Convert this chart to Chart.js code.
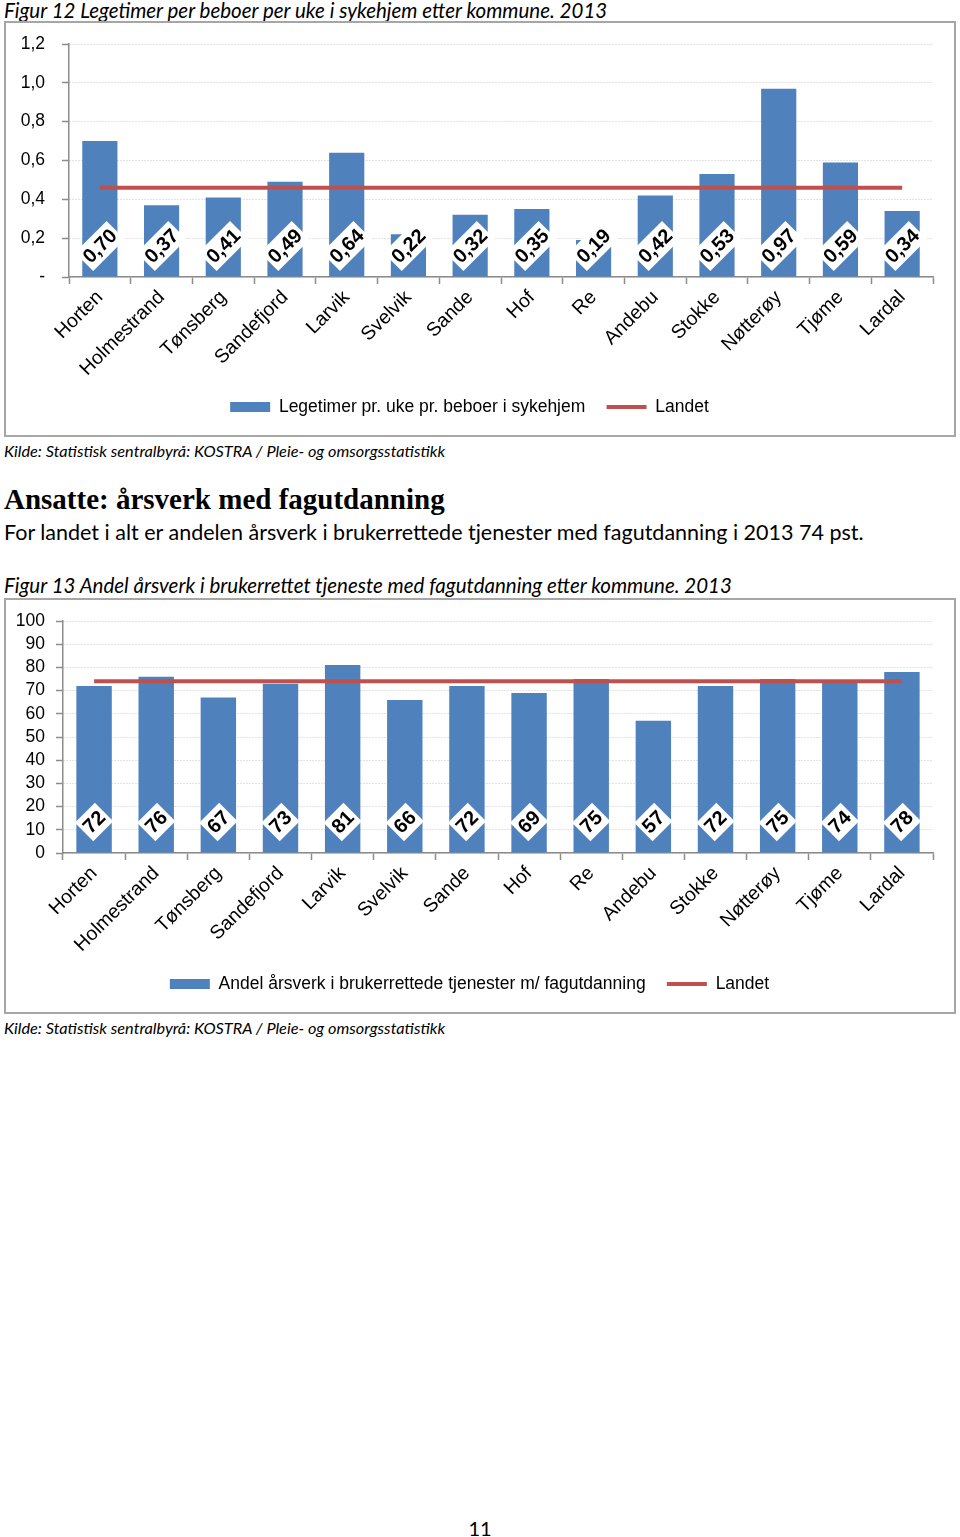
<!DOCTYPE html>
<html>
<head>
<meta charset="utf-8">
<script src="https://cdn.jsdelivr.net/npm/chart.js@4.4.3/dist/chart.umd.min.js"></script>
<style>
  body { margin: 0; background: #fff; width: 960px; height: 1537px; position: relative; overflow: hidden; font-family: Lato, "Open Sans", sans-serif; color: #000; }
  .t { position: absolute; left: 4px; white-space: nowrap; line-height: 1; }
  .cap { font-style: italic; font-size: 20.5px; }
  .src { font-style: italic; font-size: 16.3px; }
  .box { position: absolute; left: 4px; width: 948px; height: 412px; border: 2px solid #a6a6a6; }
  .box canvas { display: block; }
</style>
</head>
<body>
<div class="t cap" style="top:0px">Figur 12 Legetimer per beboer per uke i sykehjem etter kommune. 2013</div>
<div class="box" style="top:21px"><canvas id="chart1" width="948" height="412"></canvas></div>
<div class="t src" style="top:443px">Kilde: Statistisk sentralbyrå: KOSTRA / Pleie- og omsorgsstatistikk</div>

<div class="t" style="top:485px;font-family:'Liberation Serif',serif;font-weight:bold;font-size:29px">Ansatte: årsverk med fagutdanning</div>
<div class="t" style="top:522px;font-size:21.5px">For landet i alt er andelen årsverk i brukerrettede tjenester med fagutdanning i 2013 74 pst.</div>

<div class="t cap" style="top:575px">Figur 13 Andel årsverk i brukerrettet tjeneste med fagutdanning etter kommune. 2013</div>
<div class="box" style="top:598px"><canvas id="chart2" width="948" height="412"></canvas></div>
<div class="t src" style="top:1020px">Kilde: Statistisk sentralbyrå: KOSTRA / Pleie- og omsorgsstatistikk</div>

<div class="t" style="top:1518px;left:0;width:960px;text-align:center;font-size:20px">11</div>

<script>
const kommuner = ['Horten', 'Holmestrand', 'Tønsberg', 'Sandefjord', 'Larvik', 'Svelvik', 'Sande',
  'Hof', 'Re', 'Andebu', 'Stokke', 'Nøtterøy', 'Tjøme', 'Lardal'];

// Figur 12
const legetimer = [0.70, 0.37, 0.41, 0.49, 0.64, 0.22, 0.32, 0.35, 0.19, 0.42, 0.53, 0.97, 0.59, 0.34];
const legetimerLandet = 0.46;

// Figur 13
const fagutdanning = [72, 76, 67, 73, 81, 66, 72, 69, 75, 57, 72, 75, 74, 78];
const fagutdanningLandet = 74;

const BLUE = '#4F81BD';
const RED = '#C0504D';
const AXIS = '#8c8c8c';
const SANS = '"Liberation Sans", Arial, sans-serif';

function comma(v, d) {
  return v.toFixed(d).replace('.', ',');
}

// white rotated boxes with the value, near the foot of each bar
const diamondLabels = {
  id: 'diamondLabels',
  afterDatasetsDraw(chart, args, opts) {
    const ctx = chart.ctx;
    const meta = chart.getDatasetMeta(0);
    const base = chart.scales.y.getPixelForValue(0);
    ctx.save();
    ctx.font = 'bold 20px ' + SANS;
    ctx.textAlign = 'center';
    ctx.textBaseline = 'middle';
    meta.data.forEach((bar, i) => {
      const txt = comma(chart.data.datasets[0].data[i], opts.decimals);
      const w = ctx.measureText(txt).width + 6;
      const h = 26;
      ctx.save();
      ctx.translate(bar.x, base - 31);
      ctx.rotate(-Math.PI / 4);
      ctx.fillStyle = '#fff';
      ctx.fillRect(-w / 2, -h / 2, w, h);
      ctx.fillStyle = '#000';
      ctx.fillText(txt, 0, 1);
      ctx.restore();
    });
    ctx.restore();
  }
};

function buildChart(id, values, landet, cfg) {
  return new Chart(document.getElementById(id), {
    data: {
      labels: kommuner,
      datasets: [
        {
          type: 'bar',
          label: cfg.barLabel,
          data: values,
          backgroundColor: BLUE,
          barPercentage: 0.57,
          categoryPercentage: 1,
          pointStyle: 'rect',
          order: 1
        },
        {
          type: 'line',
          label: 'Landet',
          data: kommuner.map(() => landet),
          borderColor: RED,
          backgroundColor: RED,
          borderWidth: 4,
          pointRadius: 0,
          pointStyle: 'line',
          order: 0
        }
      ]
    },
    options: {
      responsive: false,
      animation: false,
      layout: { padding: { left: 0, right: 21, top: 21, bottom: 9.25 } },
      plugins: {
        legend: {
          position: 'bottom',
          labels: {
            usePointStyle: true,
            pointStyleWidth: 40,
            boxHeight: 10,
            padding: 21.25,
            color: '#000',
            font: { family: SANS, size: 17.5 },
            sort: (a, b) => a.datasetIndex - b.datasetIndex
          }
        },
        tooltip: { enabled: false },
        diamondLabels: { decimals: cfg.decimals }
      },
      scales: {
        x: {
          grid: { offset: true, drawOnChartArea: false, drawTicks: true, tickLength: 7, tickColor: AXIS, tickWidth: 1.5 },
          border: { color: AXIS, width: 1.5 },
          ticks: { color: '#000', font: { family: SANS, size: 19.5 }, minRotation: 45, maxRotation: 45, padding: 2, autoSkip: false },
          afterFit: (s) => { s.height = cfg.xHeight; }
        },
        y: {
          min: 0,
          max: cfg.max,
          ticks: { stepSize: cfg.step, autoSkip: false, color: '#000', font: { family: SANS, size: 17.5 }, padding: cfg.tickPad, callback: cfg.tickFmt },
          grid: { color: '#c4c4c4', lineWidth: 1, tickLength: 7, tickColor: AXIS, tickWidth: 1.5 },
          border: { color: AXIS, width: 1.5, dash: [1, 2] },
          afterFit: (s) => {
            s.width = cfg.yWidth;
            s.paddingTop = 0;
            s.paddingBottom = 0;
          }
        }
      }
    },
    plugins: [diamondLabels]
  });
}

buildChart('chart1', legetimer, legetimerLandet, {
  barLabel: 'Legetimer pr. uke pr. beboer i sykehjem',
  decimals: 2,
  max: 1.2,
  step: 0.2,
  tickPad: 17,
  yWidth: 63,
  xHeight: 100,
  tickFmt: (v) => (v === 0 ? '-' : comma(v, 1))
});

buildChart('chart2', fagutdanning, fagutdanningLandet, {
  barLabel: 'Andel årsverk i brukerrettede tjenester m/ fagutdanning',
  decimals: 0,
  max: 100,
  step: 10,
  tickPad: 11,
  yWidth: 57,
  xHeight: 101,
  tickFmt: (v) => String(v)
});
</script>
</body>
</html>
